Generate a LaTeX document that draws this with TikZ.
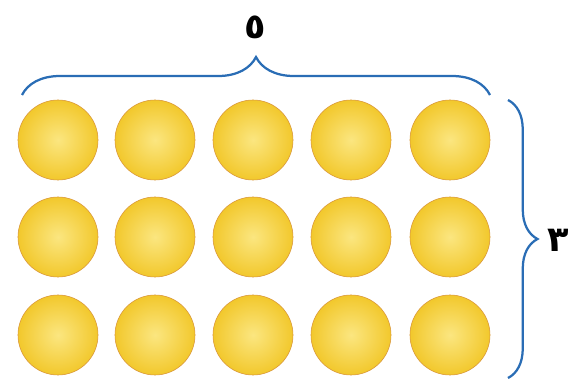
\documentclass[tikz,border=0pt]{standalone}
\usepackage{fontspec}
\newfontfamily\arabicfont[Script=Arabic]{DejaVu Sans}
\TeXXeTstate=1
\usetikzlibrary{decorations.pathreplacing}
\definecolor{bracecol}{HTML}{2A6DB5}
\definecolor{balllight}{HTML}{FBE680}
\definecolor{balldark}{HTML}{F2C82C}
\definecolor{ballrim}{HTML}{D9963A}

\begin{document}
\begin{tikzpicture}[x=0.025cm, y=-0.025cm,
  ball/.style={circle, minimum size=2cm, inner sep=0pt, draw=ballrim, thin, inner color=balllight, outer color=balldark},
  bracket/.style={bracecol, line width=1.6pt, decorate, decoration={brace, amplitude=#1}},
  count/.style={font=\arabicfont\bfseries\fontsize{25}{30}\selectfont}]
\useasboundingbox (0,0) rectangle (580,387);
%balls
%row 1
\node[ball] (b11) at (58,140) {};
\node[ball] (b12) at (155,140) {};
\node[ball] (b13) at (253,140) {};
\node[ball] (b14) at (351,140) {};
\node[ball] (b15) at (450,140) {};
%row 2
\node[ball] (b21) at (58,237) {};
\node[ball] (b22) at (155,237) {};
\node[ball] (b23) at (253,237) {};
\node[ball] (b24) at (351,237) {};
\node[ball] (b25) at (450,237) {};
%row 3
\node[ball] (b31) at (58,335) {};
\node[ball] (b32) at (155,335) {};
\node[ball] (b33) at (253,335) {};
\node[ball] (b34) at (351,335) {};
\node[ball] (b35) at (450,335) {};
%brace ends
\coordinate (tl) at (22,95);
\coordinate (tr) at (490,95);
\coordinate (rt) at (508,100);
\coordinate (rb) at (508,378);
%braces
\draw[bracket=27pt] (tl) -- (tr);
\draw[bracket=21pt] (rt) -- (rb);
%labels
\node[count] (five) at (255,27) {\beginR ٥\endR};
\node[count] (three) at (558,240) {\beginR ٣\endR};
\end{tikzpicture}
\end{document}
